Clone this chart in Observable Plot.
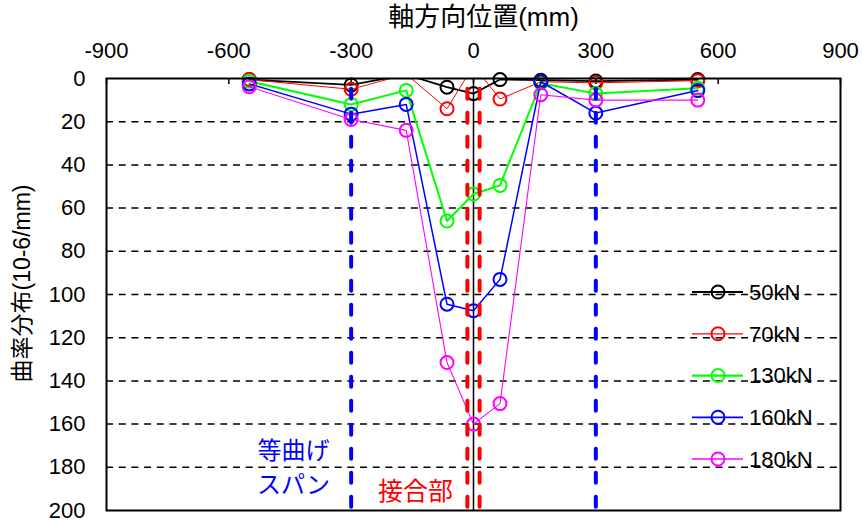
<!DOCTYPE html>
<html><head><meta charset="utf-8">
<script src="https://cdn.jsdelivr.net/npm/d3@7"></script>
<script src="https://cdn.jsdelivr.net/npm/@observablehq/plot@0.6"></script>
<style>
body{margin:0;background:#fff;}
#chart{position:relative;width:862px;height:524px;}
</style></head><body><div id="chart"></div>
<script>
// ---- data ----
const positions = [-550, -300, -165, -65, 0, 65, 165, 300, 550];
const seriesNames = ["50kN", "70kN", "130kN", "160kN", "180kN"];
const v50  = [0.5, 3, -1.8, 4, 7, 0.5, 0.8, 1.2, 0.5];
const v70  = [0.5, 5, -2, 14, -6, 9.5, 1.5, 2, 1];
const v130 = [1.3, 12, 5.5, 66, 53.5, 49.5, 2.2, 7, 4.5];
const v160 = [2.5, 16.5, 12, 104.5, 107.5, 93, 1.5, 16, 5.6];
const v180 = [3.8, 19, 24, 131.5, 160, 150.5, 7.5, 10, 10];
const xTicks = [-900, -600, -300, 0, 300, 600, 900];
const yTicks = [0, 20, 40, 60, 80, 100, 120, 140, 160, 180, 200];
const gridValues = [20, 40, 60, 80, 100, 120, 140, 160, 180];
const spanLines = [-300, 300];
const jointLines = [-15, 15];
const xTitle = "軸方向位置(mm)";
const yTitle = "曲率分布(10-6/mm)";
const spanLabel1 = "等曲げ";
const spanLabel2 = "スパン";
const jointLabel = "接合部";

// ---- styles ----
const colors = ["#000000", "#ff0000", "#00ff00", "#0000ff", "#ff00ff"];
const widths = [1.75, 1, 2, 1.5, 1.1];
const FONT = "'Liberation Sans', Arial, 'Noto Sans CJK JP', sans-serif";
const CJK = "'Noto Sans CJK JP', sans-serif";

const allValues = [v50, v70, v130, v160, v180];
const rows = [];
seriesNames.forEach((s, i) => allValues[i].forEach((v, j) => rows.push({series: s, x: positions[j], v})));

const seriesMarks = [];
seriesNames.forEach((s, i) => {
  const d = rows.filter(r => r.series === s);
  seriesMarks.push(Plot.line(d, {x: "x", y: "v", stroke: colors[i], strokeWidth: widths[i], clip: true}));
  seriesMarks.push(Plot.dot(d.filter(r => r.v >= 0), {x: "x", y: "v", r: 6.5, stroke: colors[i], strokeWidth: 2, fill: "none"}));
});

const plot = Plot.plot({
  width: 862, height: 524,
  marginLeft: 106, marginRight: 22, marginTop: 78, marginBottom: 14,
  style: {fontFamily: FONT, fontSize: "22px", background: "#fff", color: "#000"},
  x: {domain: [-900, 900]},
  y: {domain: [0, 200], reverse: true},
  marks: [
    Plot.ruleY(gridValues, {stroke: "#000", strokeWidth: 1.5, strokeDasharray: "7,5.7"}),
    Plot.ruleX([0], {stroke: "#000", strokeWidth: 1.5}),
    Plot.ruleX(xTicks, {x: d => d, y1: d => 0, y2: d => 0, insetBottom: -6, stroke: "#000", strokeWidth: 1.5}),
    ...seriesMarks,
    Plot.ruleX(spanLines, {x: d => d, y1: d => 5, y2: d => 200, stroke: "#0000ff", strokeWidth: 4, strokeDasharray: "10,14", strokeLinecap: "round"}),
    Plot.ruleX(jointLines, {x: d => d, y1: d => 5, y2: d => 200, stroke: "#ff0000", strokeWidth: 4, strokeDasharray: "10,14", strokeLinecap: "round"}),
    Plot.frame({stroke: "#000", strokeWidth: 2}),
    Plot.axisX({anchor: "top", ticks: xTicks, tickSize: 0, tickPadding: 21, tickFormat: d => String(d), label: null, fontSize: 22}),
    Plot.axisY({anchor: "left", ticks: yTicks, tickSize: 0, tickPadding: 21, tickFormat: d => String(d), label: null, fontSize: 22}),
    Plot.text([xTitle], {frameAnchor: "top", textAnchor: "middle", lineAnchor: "middle", dx: 10, dy: -61, fontSize: 26, fontFamily: FONT, fill: "#000"}),
    Plot.text([yTitle], {frameAnchor: "left", textAnchor: "middle", lineAnchor: "middle", rotate: -90, dx: -84, dy: -11, fontSize: 23, fontFamily: FONT, fill: "#000"}),
    Plot.text([spanLabel1], {frameAnchor: "bottom-left", textAnchor: "middle", lineAnchor: "middle", dx: 187, dy: -59, fontSize: 24, fontFamily: CJK, fill: "#0000ff"}),
    Plot.text([spanLabel2], {frameAnchor: "bottom-left", textAnchor: "middle", lineAnchor: "middle", dx: 187, dy: -25, fontSize: 24, fontFamily: CJK, fill: "#0000ff"}),
    Plot.text([jointLabel], {frameAnchor: "bottom-left", textAnchor: "middle", lineAnchor: "middle", dx: 309, dy: -19, fontSize: 25, fontFamily: CJK, fill: "#ff0000"})
  ]
});
document.getElementById("chart").appendChild(plot);

// ---- legend (inside the plot area, right side) ----
const svg = d3.select(plot);
const lg = svg.append("g").attr("font-family", FONT).attr("font-size", 22).attr("text-anchor", "start");
const lx0 = 692, lx1 = 743, lcx = 718, ltx = 749, ly0 = 292, ldy = 41.75;
seriesNames.forEach((s, i) => {
  const y = ly0 + i * ldy;
  lg.append("line").attr("x1", lx0).attr("x2", lx1).attr("y1", y).attr("y2", y)
    .attr("stroke", colors[i]).attr("stroke-width", widths[i] + 0.25);
  lg.append("circle").attr("cx", lcx).attr("cy", y).attr("r", 6.5)
    .attr("fill", "none").attr("stroke", colors[i]).attr("stroke-width", 2);
  lg.append("text").attr("x", ltx).attr("y", y).attr("dy", "0.36em")
    .attr("text-anchor", "start").attr("fill", "#000").text(s);
});
</script>
</body></html>
